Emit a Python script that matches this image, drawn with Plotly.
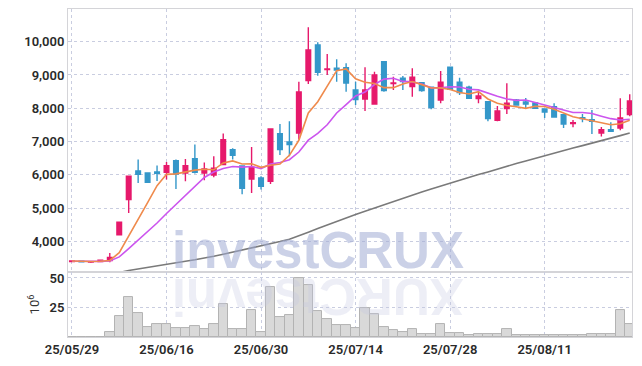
import plotly.graph_objects as go
from plotly.subplots import make_subplots

dates = ["25/05/29", "25/05/30",
         "25/06/02", "25/06/04", "25/06/05", "25/06/09", "25/06/10", "25/06/11", "25/06/12", "25/06/13",
         "25/06/16", "25/06/17", "25/06/18", "25/06/19", "25/06/20", "25/06/23", "25/06/24", "25/06/25",
         "25/06/26", "25/06/27", "25/06/30",
         "25/07/01", "25/07/02", "25/07/03", "25/07/04", "25/07/07", "25/07/08", "25/07/09", "25/07/10",
         "25/07/11", "25/07/14", "25/07/15", "25/07/16", "25/07/17", "25/07/18", "25/07/21", "25/07/22",
         "25/07/23", "25/07/24", "25/07/25", "25/07/28", "25/07/29", "25/07/30", "25/07/31",
         "25/08/01", "25/08/04", "25/08/05", "25/08/06", "25/08/07", "25/08/08", "25/08/11", "25/08/12",
         "25/08/13", "25/08/14", "25/08/18", "25/08/19", "25/08/20", "25/08/21", "25/08/22", "25/08/25"]

opens = [3400, 3410, 3385, 3400, 3430, 4200, 5260, 6120, 6060, 6090,
         6080, 6430, 6060, 6490, 6060, 6000, 6310, 6760, 6270, 5880,
         5910, 5810, 7240, 6990, 7260, 8830, 9900, 9160, 9200, 9220,
         8550, 8280, 8130, 9400, 8740, 8900, 8650, 8770, 8630, 8250,
         9230, 8780, 8630, 8290, 8200, 7640, 7990, 8250, 8190, 8160,
         7980, 8050, 7810, 7540, 7720, 7660, 7260, 7360, 7410, 7810]
highs = [3440, 3420, 3400, 3450, 3660, 4590, 5970, 6460, 6070, 6280,
         6390, 6460, 6480, 6910, 6370, 6560, 7240, 6800, 6290, 6840,
         5960, 7390, 7530, 7610, 8800, 10430, 9980, 9630, 9470, 9350,
         8800, 9230, 9100, 9420, 8950, 8970, 9200, 8790, 8650, 9120,
         9250, 8920, 8680, 8500, 8210, 8070, 8750, 8280, 8310, 8170,
         8000, 8150, 7820, 7650, 7830, 7950, 7440, 7580, 8300, 8420]
lows = [3390, 3380, 3360, 3395, 3380, 4200, 4860, 5760, 5770, 5820,
        5860, 5580, 5810, 6040, 5840, 5930, 6290, 6460, 5420, 5460,
        5560, 5730, 6600, 6560, 7060, 8730, 8980, 9000, 8800, 8500,
        8100, 7920, 8110, 8500, 8550, 8550, 8350, 8500, 7970, 8150,
        8560, 8400, 8290, 8150, 7610, 7610, 7830, 8090, 8010, 7990,
        7710, 7730, 7410, 7430, 7580, 7230, 7150, 7300, 7340, 7760]
closes = [3420, 3390, 3395, 3440, 3520, 4580, 5960, 6020, 5780, 6050,
          6280, 6030, 6280, 6080, 6180, 6200, 7060, 6590, 5600, 6230,
          5660, 7380, 6760, 6910, 8490, 9750, 9080, 9180, 9150, 8760,
          8260, 8550, 9000, 8530, 8760, 8800, 8930, 8530, 8020, 8780,
          8570, 8470, 8300, 8370, 7690, 7920, 8150, 8100, 8130, 8000,
          7890, 7740, 7530, 7570, 7690, 7610, 7360, 7310, 7710, 8220]
volumes = [0.1, 0.1, 0.1, 0.1, 4.2, 17.5, 34.2, 20.0, 8.3, 10.8,
           10.8, 7.5, 7.5, 9.2, 6.7, 10.8, 27.5, 6.7, 6.7, 22.5,
           4.2, 42.5, 16.7, 18.3, 50.0, 44.2, 21.7, 15.0, 10.0, 10.0,
           7.5, 24.2, 19.2, 8.3, 5.8, 4.2, 6.7, 2.5, 2.5, 10.8,
           3.4, 3.0, 1.7, 2.5, 2.5, 2.5, 6.7, 1.3, 1.3, 1.3,
           1.3, 1.3, 1.3, 2.0, 2.0, 2.5, 2.5, 2.5, 22.5, 10.8]
ma5 = [3415, 3405, 3400, 3410, 3433, 3665, 4179, 4704, 5172, 5678,
       6018, 6032, 6084, 6144, 6170, 6154, 6360, 6422, 6326, 6336,
       6228, 6292, 6326, 6588, 7040, 7858, 8198, 8682, 9130, 9184,
       8886, 8780, 8744, 8620, 8620, 8728, 8804, 8710, 8608, 8612,
       8566, 8474, 8428, 8498, 8280, 8150, 8086, 8046, 7998, 8060,
       8054, 7972, 7858, 7746, 7684, 7628, 7552, 7508, 7536, 7642]
ma10 = [3410, 3405, 3400, 3405, 3420, 3540, 3790, 4050, 4290, 4556,
        4842, 5106, 5394, 5658, 5924, 6086, 6196, 6253, 6235, 6253,
        6191, 6326, 6374, 6457, 6688, 7043, 7245, 7504, 7859, 8112,
        8372, 8489, 8713, 8875, 8902, 8807, 8792, 8727, 8614, 8616,
        8647, 8639, 8569, 8553, 8446, 8358, 8280, 8237, 8248, 8170,
        8102, 8029, 7953, 7873, 7873, 7842, 7763, 7689, 7647, 7669]
ma60 = [2850, 2890, 2930, 2970, 3020, 3070, 3130, 3180, 3230, 3275,
        3320, 3365, 3410, 3455, 3500, 3560, 3620, 3680, 3740, 3800,
        3860, 3930, 4000, 4072, 4170, 4280, 4390, 4500, 4600, 4710,
        4813, 4910, 5010, 5110, 5200, 5300, 5400, 5490, 5580, 5670,
        5760, 5845, 5930, 6010, 6090, 6180, 6260, 6340, 6420, 6500,
        6587, 6660, 6740, 6810, 6880, 6960, 7030, 7110, 7180, 7257]
tick_dates = ["25/05/29", "25/06/16", "25/06/30", "25/07/14", "25/07/28", "25/08/11"]
price_ticks = [4000, 5000, 6000, 7000, 8000, 9000, 10000]
volume_ticks = [25, 50]

UP = "#e6196b"
DOWN = "#3497c9"
GRID = "#c9cde0"
TICKFONT = dict(family="Roboto, sans-serif", size=13, color="#2a2a2a", weight=600)

fig = make_subplots(rows=2, cols=1, shared_xaxes=True, vertical_spacing=0,
                    row_heights=[0.802, 0.198])

fig.add_trace(go.Bar(x=dates, y=volumes, marker=dict(color="#d9d9d9", line=dict(color="#b3b3b3", width=1)),
                     showlegend=False, hoverinfo="skip"), row=2, col=1)

fig.add_trace(go.Scatter(x=dates, y=ma60, mode="lines", line=dict(color="#7a7a7a", width=1.6),
                         showlegend=False), row=1, col=1)
fig.add_trace(go.Scatter(x=dates, y=ma10, mode="lines", line=dict(color="#cc55ee", width=1.6),
                         showlegend=False), row=1, col=1)
fig.add_trace(go.Scatter(x=dates, y=ma5, mode="lines", line=dict(color="#ef8a4c", width=1.6),
                         showlegend=False), row=1, col=1)
fig.add_trace(go.Candlestick(x=dates, open=opens, high=highs, low=lows, close=closes,
                             increasing=dict(line=dict(color=UP, width=1.4), fillcolor=UP),
                             decreasing=dict(line=dict(color=DOWN, width=1.4), fillcolor=DOWN),
                             showlegend=False), row=1, col=1)

fig.update_xaxes(type="category", range=[-0.42, 59.24], showgrid=True, gridcolor=GRID, griddash="dot",
                 gridwidth=1, tickvals=tick_dates, ticktext=tick_dates, tickfont=TICKFONT,
                 showline=True, linecolor="#d4d4d8", linewidth=1, mirror=True, ticks="",
                 rangeslider=dict(visible=False), zeroline=False, automargin=False)
fig.update_xaxes(showticklabels=False, row=1, col=1)
fig.update_yaxes(showgrid=True, gridcolor=GRID, griddash="dot", gridwidth=1, tickfont=TICKFONT,
                 showline=True, linecolor="#d4d4d8", linewidth=1, mirror=True, ticks="", zeroline=False,
                 automargin=False)
fig.update_yaxes(range=[3085, 10980], tickvals=price_ticks, tickformat=",d", row=1, col=1)
fig.update_yaxes(range=[0, 55], tickvals=volume_ticks, row=2, col=1,
                 title=dict(text="10<sup>6</sup>", font=dict(family="Roboto, sans-serif",
                                                           size=13, color="#333333"), standoff=6))

fig.add_annotation(xref="paper", yref="paper", x=0.443, y=0.198, xanchor="center", yanchor="bottom",
                   yshift=-9, text="<b>investCRUX</b>", showarrow=False,
                   font=dict(family="Liberation Sans, Arial, sans-serif", size=51, color="rgba(160,172,212,0.55)"))
fig.add_annotation(xref="paper", yref="paper", x=0.443, y=0.198, xanchor="center", yanchor="top",
                   yshift=6, text="<b>XURCtsevni</b>", textangle=180, showarrow=False,
                   font=dict(family="Liberation Sans, Arial, sans-serif", size=51, color="rgba(195,200,226,0.3)"))

fig.update_layout(width=626, height=350, margin=dict(l=60, r=2, t=1, b=21, autoexpand=False),
                  paper_bgcolor="white", plot_bgcolor="white", bargap=0, showlegend=False)

fig.write_html("out.html")
